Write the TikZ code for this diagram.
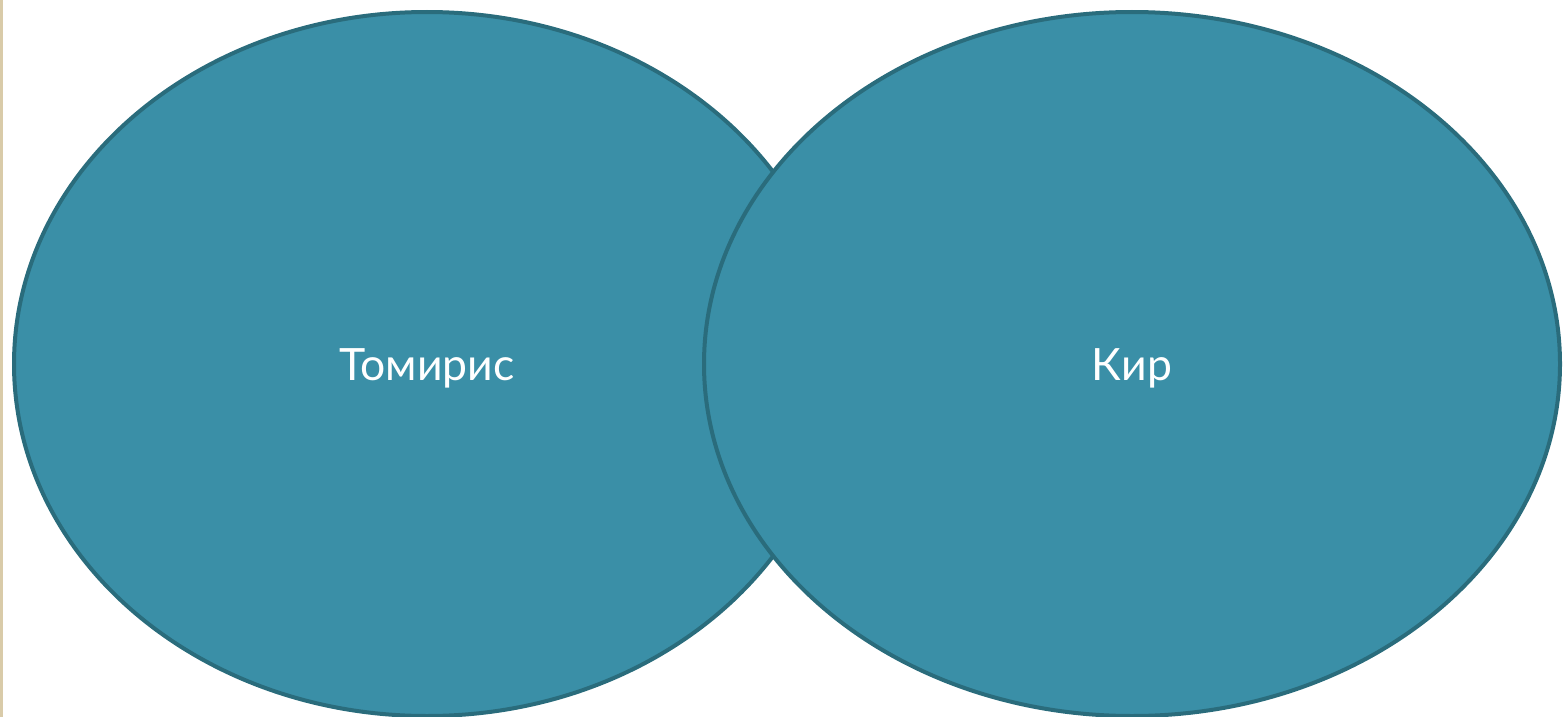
\documentclass[tikz,border=0pt]{standalone}
\usepackage{fontspec}
\usetikzlibrary{shapes.geometric}
\setmainfont{Lato}
\definecolor{fillc}{HTML}{3A8FA7}
\definecolor{edgec}{HTML}{2A6C7C}
\definecolor{beige}{HTML}{D9CBA9}
\begin{document}
\begin{tikzpicture}[x=1pt,y=-1pt,
  blob/.style={ellipse,draw=edgec,fill=fillc,line width=4pt,inner sep=0pt,minimum height=704pt},
  lbl/.style={text=white,font=\fontsize{44.5}{50}\selectfont}]
\useasboundingbox (0,0) rectangle (1566,717);
\fill[beige] (0,0) rectangle (2.5,717);
\node[blob,minimum width=826pt] (left) at (427,364) {};
\node[blob,minimum width=856pt] (right) at (1132,364) {};
\node[lbl] (tomiris) at ([yshift=-4pt]left.center) {Томирис};
\node[lbl] (kir) at ([yshift=-4pt]right.center) {Кир};
\end{tikzpicture}
\end{document}
